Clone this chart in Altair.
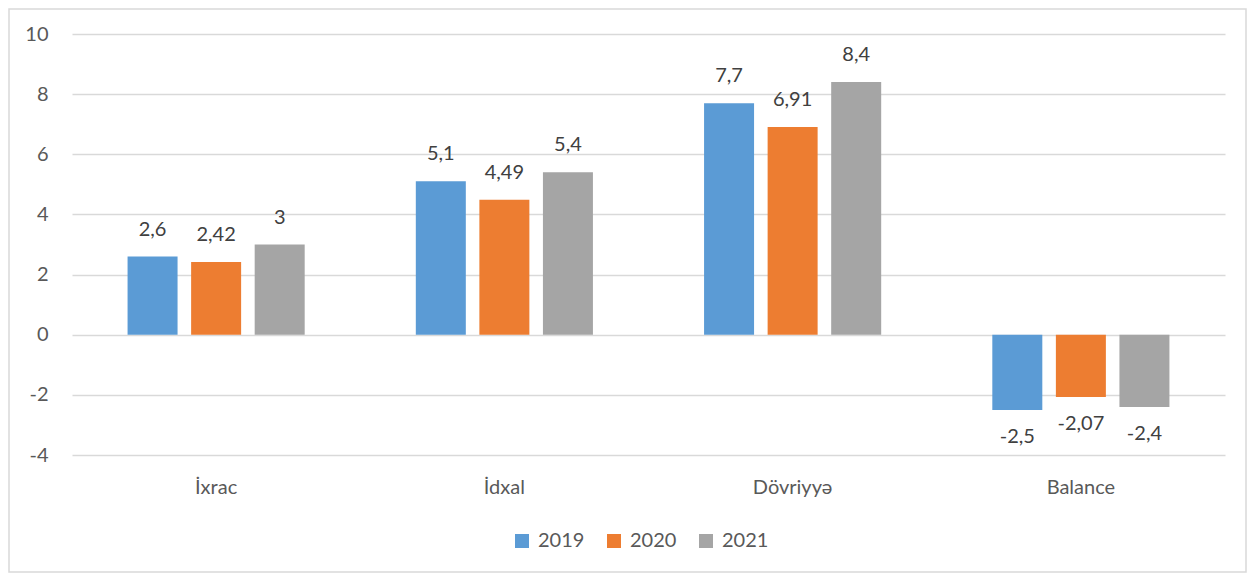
import altair as alt
import pandas as pd

categories = ["İxrac", "İdxal", "Dövriyyə", "Balance"]
years = ["2019", "2020", "2021"]
v2019 = [2.6, 5.1, 7.7, -2.5]
v2020 = [2.42, 4.49, 6.91, -2.07]
v2021 = [3.0, 5.4, 8.4, -2.4]
colors = ["#5b9bd5", "#ed7d31", "#a5a5a5"]

rows = []
for yr, vals in zip(years, [v2019, v2020, v2021]):
    for c, v in zip(categories, vals):
        lab = ("%g" % v).replace(".", ",")
        rows.append({"cat": c, "year": yr, "value": v, "label": lab})
df = pd.DataFrame(rows)

FONT = "Lato"
TXT = "#595959"
FS = 20

x = alt.X("cat:N", sort=categories, scale=alt.Scale(paddingInner=0, paddingOuter=0),
          axis=alt.Axis(title=None, labelAngle=0, ticks=False, domain=False, labelPadding=22,
                        labelFontSize=FS, labelColor=TXT, labelFont=FONT, grid=False))
xo = alt.XOffset("year:N", sort=years, scale=alt.Scale(paddingInner=0.213, paddingOuter=0.874))
y = alt.Y("value:Q", scale=alt.Scale(domain=[-4, 10], nice=False),
          axis=alt.Axis(title=None, values=[-4, -2, 0, 2, 4, 6, 8, 10], domain=False, ticks=False,
                        labelPadding=24, labelFontSize=FS, labelColor=TXT, labelFont=FONT,
                        gridColor="#d9d9d9", gridWidth=1.3,
                        labelExpr="'' + datum.value"))

base = alt.Chart(df)

bars = base.mark_bar(size=50).encode(
    x=x, xOffset=xo, y=y,
    color=alt.Color("year:N", sort=years, scale=alt.Scale(domain=years, range=colors),
                    legend=alt.Legend(title=None, orient="none", direction="horizontal",
                                      legendX=440, legendY=497, symbolType="square",
                                      symbolSize=196, symbolStrokeWidth=0, labelFontSize=FS,
                                      labelColor=TXT, labelFont=FONT, columnPadding=19,
                                      labelOffset=6)),
)

pos = base.transform_filter("datum.value >= 0").mark_text(
    dy=-27, fontSize=FS, color="#404040", font=FONT, baseline="middle"
).encode(x=x, xOffset=xo, y=y, text="label:N")

neg = base.transform_filter("datum.value < 0").mark_text(
    dy=27, fontSize=FS, color="#404040", font=FONT, baseline="middle"
).encode(x=x, xOffset=xo, y=y, text="label:N")

border = alt.Chart(pd.DataFrame({"a": [0]})).mark_rect(
    fill=None, stroke="#d9d9d9", strokeWidth=1.5, clip=False
).encode(x=alt.value(-63), x2=alt.value(1174), y=alt.value(-25), y2=alt.value(538))

chart = alt.layer(border, bars, pos, neg).properties(
    width=1153, height=421,
    autosize=alt.AutoSizeParams(type="none"),
    padding={"left": 64, "top": 26, "right": 22, "bottom": 120},
).configure_view(stroke=None)

chart.save("out.html", embed_options={"renderer": "svg", "actions": False})
